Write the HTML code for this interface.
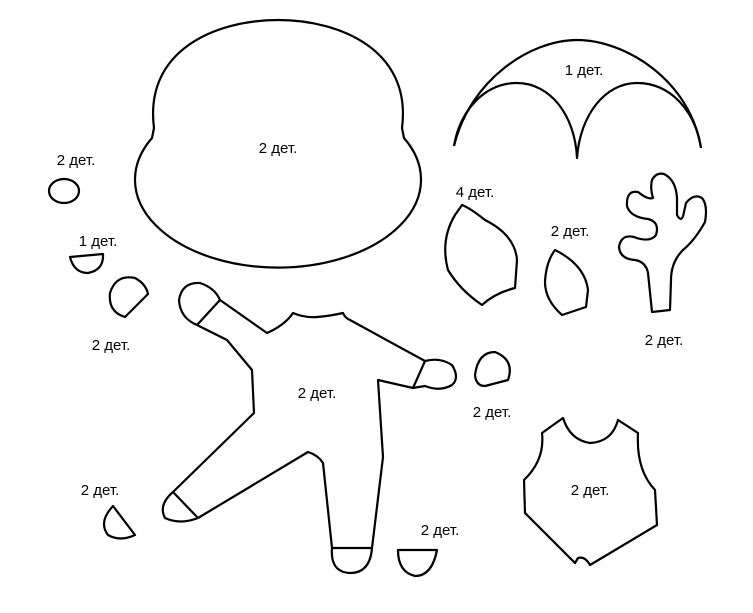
<!DOCTYPE html>
<html><head><meta charset="utf-8"><style>html,body{margin:0;padding:0;background:#fff}svg{display:block}</style></head>
<body>
<svg width="753" height="613" viewBox="0 0 753 613" xmlns="http://www.w3.org/2000/svg">
<g fill="none" stroke="#000" stroke-width="2.2" stroke-linejoin="round">
<path d="M152,138 A143,88 0 1 0 404,138 L402,128 C412,50 340,20 278,20 C216,20 144,50 154,128 Z"/>
<path d="M454,146 C470,80 530,40 577,40 C625,40 690,80 701,148"/>
<path d="M454,146 C460,110 485,83 517,83 C550,83 575,115 577,158 C580,115 605,83 637,83 C670,83 695,110 701,148"/>
<ellipse cx="64" cy="191" rx="15" ry="12"/>
<path d="M70,257 L103,254 Q104,270 88,273 Q74,273 70,257 Z"/>
<path d="M148,294 L125,317 Q108,312 110,293 Q116,274 135,278 Q146,284 148,294 Z"/>
<path d="M485,386 L508,380 Q515,360 495,352 Q478,352 475,375 Q476,386 485,386Z"/>
<path d="M113,506 L135,535 Q120,542 108,535 Q98,522 113,506Z"/>
<path d="M398,550 L437,550 Q432,576 415,576 Q398,572 398,550Z"/>
<path d="M293,313 Q305,318 317,317 Q330,316 343,313 Q345,318 350,320 L425,361 Q440,357 452,365 Q460,378 452,385 Q440,392 425,386 L413,388 L378,380 L383,457 L372,548 Q370,573 350,573 Q330,572 332,548 L323,463 Q318,455 308,452 L198,518 Q180,525 165,518 Q158,505 173,492 L254,413 L252,370 L227,340 L197,325 Q180,318 179,300 Q182,282 200,283 Q215,288 220,300 L267,333 Q285,325 293,313 Z"/>
<path d="M220,300 L197,325 M173,492 L198,518 M332,548 L372,548 M425,361 L413,388"/>
<path d="M462,205 Q470,208 485,220 Q515,235 517,260 L515,288 Q495,293 482,305 Q460,290 448,270 Q440,240 455,215 Z"/>
<path d="M555,250 Q585,265 588,290 L586,307 L562,315 Q545,300 545,282 Q546,262 555,250Z"/>
<path d="M652,312 L648,273 Q646,262 635,260 Q620,259 619,247 Q621,234 634,237 Q650,243 656,235 Q660,222 648,219 Q630,217 627,206 Q626,190 638,192 Q648,200 653,198 Q650,188 652,180 Q656,172 664,174 Q676,180 677,198 L677,215 Q682,224 684,212 L686,203 Q694,193 702,198 Q708,205 705,222 Q695,240 683,250 Q671,262 671,280 L670,310 Z"/>
<path d="M563,418 Q570,440 590,443 Q612,442 618,420 L638,433 Q636,470 655,490 L657,525 L590,565 Q585,556 578,558 L575,563 L525,513 L524,480 Q545,460 542,433 Z"/>
</g>
<g font-family="Liberation Sans, sans-serif" font-size="15" text-anchor="middle" fill="#000">
<text x="278" y="153">2 дет.</text>
<text x="584" y="75">1 дет.</text>
<text x="76" y="165">2 дет.</text>
<text x="98" y="246">1 дет.</text>
<text x="111" y="350">2 дет.</text>
<text x="475" y="197">4 дет.</text>
<text x="570" y="236">2 дет.</text>
<text x="664" y="345">2 дет.</text>
<text x="317" y="398">2 дет.</text>
<text x="492" y="417">2 дет.</text>
<text x="590" y="495">2 дет.</text>
<text x="100" y="495">2 дет.</text>
<text x="440" y="535">2 дет.</text>
</g>
</svg>
</body></html>
